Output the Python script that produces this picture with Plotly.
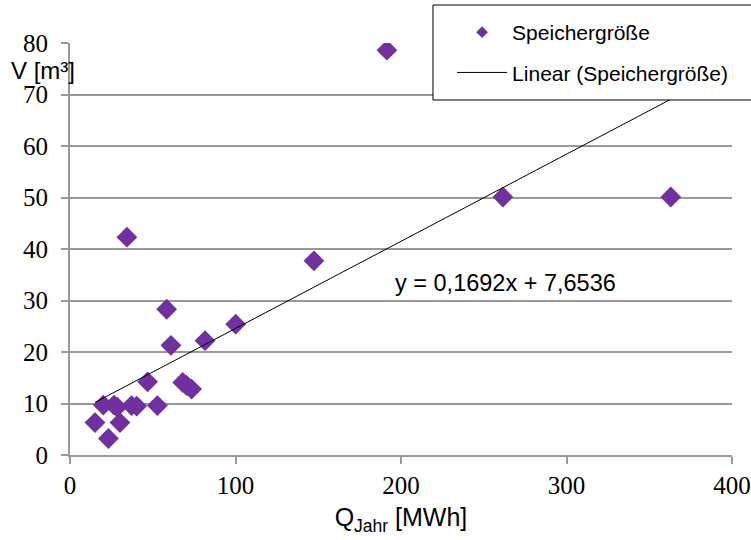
import plotly.graph_objects as go

# Data
q_jahr = [15.1, 20.1, 23.2, 26.6, 28.5, 30.2, 34.4, 37.2, 40.3, 46.9, 52.8,
          58.4, 61.0, 68.1, 70.5, 73.5, 81.6, 100.1, 147.4, 191.5, 261.6, 363.0]
volumen = [6.3, 9.7, 3.2, 9.7, 9.3, 6.3, 42.3, 9.6, 9.5, 14.2, 9.6,
           28.3, 21.3, 14.1, 13.5, 12.8, 22.2, 25.4, 37.7, 78.6, 50.1, 50.1]

slope = 0.1692
intercept = 7.6536
x_ticks = [0, 100, 200, 300, 400]
y_ticks = [0, 10, 20, 30, 40, 50, 60, 70, 80]

trend_x = [min(q_jahr), max(q_jahr)]
trend_y = [slope * v + intercept for v in trend_x]

purple = "#7030A0"
grid = "#999999"
serif = "Times New Roman"
sans = "Liberation Sans"

fig = go.Figure()
fig.add_trace(go.Scatter(
    x=q_jahr, y=volumen, mode="markers", name="Speichergröße",
    showlegend=False,
    marker=dict(symbol="diamond", size=16, color=purple, line=dict(width=0)),
))
# legend-only entry with a small marker like the reference legend
fig.add_trace(go.Scatter(
    x=[None], y=[None], mode="markers", name="Speichergröße",
    legendgroup="a",
    marker=dict(symbol="diamond", size=9, color=purple, line=dict(width=0)),
))
fig.add_trace(go.Scatter(
    x=trend_x, y=trend_y, mode="lines", name="Linear (Speichergröße)",
    legendgroup="b",
    line=dict(color="black", width=1),
))

fig.update_layout(
    width=751, height=540,
    margin=dict(l=70, r=19, t=43, b=85, autoexpand=False),
    paper_bgcolor="white", plot_bgcolor="white",
    showlegend=True,
    legend=dict(
        xref="container", yref="container",
        x=0.602, y=0.9778, xanchor="left", yanchor="top",
        bgcolor="rgba(0,0,0,0)", borderwidth=0,
        font=dict(family=sans, size=21, color="black"),
        traceorder="grouped", tracegroupgap=10,
        itemwidth=50,
    ),
    xaxis=dict(
        range=[0, 400], tickvals=x_ticks, ticktext=[str(v) for v in x_ticks],
        showgrid=False, zeroline=False, automargin=False,
        showline=True, linecolor=grid, linewidth=1.8,
        ticks="outside", ticklen=7, tickcolor=grid, tickwidth=1.8,
        tickfont=dict(family=serif, size=25, color="black"),
        title=dict(text="Q<sub>Jahr</sub> [MWh]", standoff=11,
                   font=dict(family=sans, size=25, color="black")),
    ),
    yaxis=dict(
        range=[0, 80], tickvals=y_ticks, ticktext=[str(v) for v in y_ticks],
        showgrid=True, gridcolor=grid, gridwidth=1.8, zeroline=False,
        automargin=False,
        showline=True, linecolor=grid, linewidth=1.8,
        ticks="outside", ticklen=7, tickcolor=grid, tickwidth=1.8,
        ticklabelstandoff=8,
        tickfont=dict(family=serif, size=25, color="black"),
    ),
    shapes=[dict(type="rect", xref="paper", yref="paper",
                 x0=0.5483, x1=1.2, y0=0.8617, y1=1.0922,
                 line=dict(color="black", width=1), fillcolor="white",
                 layer="above")],
    annotations=[
        dict(text="V [m³]", xref="paper", yref="paper", x=-0.092, y=0.934,
             xanchor="left", yanchor="middle", showarrow=False,
             font=dict(family=sans, size=24, color="black")),
        dict(text="y = 0,1692x + 7,6536", xref="x", yref="y", x=263, y=33.4,
             xanchor="center", yanchor="middle", showarrow=False,
             font=dict(family=sans, size=23.5, color="black")),
    ],
)

fig.write_html(
    "out.html",
    config={"displayModeBar": False},
    post_script="document.body.style.margin='0';document.body.style.overflow='hidden';",
)
